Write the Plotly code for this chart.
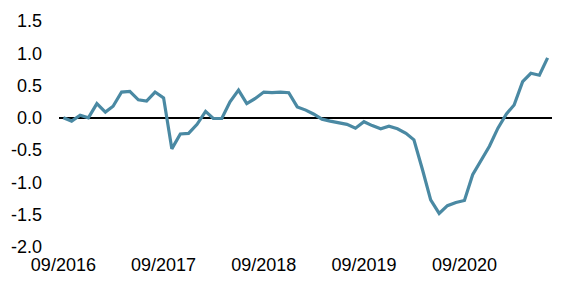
import plotly.graph_objects as go
import pandas as pd

months = pd.date_range("2016-09-01", "2021-07-01", freq="MS").strftime("%Y-%m-%d").tolist()
values = [
    0.00, -0.05, 0.04, 0.00,
    0.22, 0.09, 0.18, 0.40, 0.41, 0.28, 0.26, 0.40, 0.31, -0.48, -0.25, -0.24,
    -0.10, 0.10, -0.01, -0.01, 0.25, 0.43, 0.22, 0.30, 0.40, 0.39, 0.40, 0.39,
    0.17, 0.12, 0.06, -0.02, -0.05, -0.07, -0.10, -0.16, -0.06, -0.12, -0.17, -0.13,
    -0.17, -0.24, -0.34, -0.80, -1.27, -1.48, -1.36, -1.31, -1.28, -0.88, -0.65, -0.44,
    -0.16, 0.06, 0.20, 0.56, 0.69, 0.66, 0.93,
]
tick_dates = ["2016-09-01", "2017-09-01", "2018-09-01", "2019-09-01", "2020-09-01"]
tick_labels = ["09/2016", "09/2017", "09/2018", "09/2019", "09/2020"]
y_ticks = [1.5, 1.0, 0.5, 0.0, -0.5, -1.0, -1.5, -2.0]
y_labels = ["1.5", "1.0", "0.5", "0.0", "-0.5", "-1.0", "-1.5", "-2.0"]

fig = go.Figure()
fig.add_trace(go.Scatter(
    x=months, y=values, mode="lines",
    line=dict(color="#4A89A3", width=3.2),
    hoverinfo="skip",
))
fig.update_layout(
    width=565, height=295,
    margin=dict(l=59, r=13, t=21, b=48),
    paper_bgcolor="white", plot_bgcolor="white",
    showlegend=False,
    font=dict(family="Liberation Sans, Arial, sans-serif", size=18, color="black"),
)
fig.update_xaxes(
    range=["2016-08-16", "2021-07-17"],
    tickvals=tick_dates, ticktext=tick_labels,
    showgrid=False, zeroline=False, showline=False, ticks="",
    ticklabelstandoff=5,
)
fig.update_yaxes(
    range=[-2.0, 1.5],
    tickvals=y_ticks, ticktext=y_labels,
    showgrid=False, showline=False, ticks="",
    zeroline=True, zerolinecolor="black", zerolinewidth=2,
    ticklabelstandoff=16,
)
fig.write_html("out.html")
